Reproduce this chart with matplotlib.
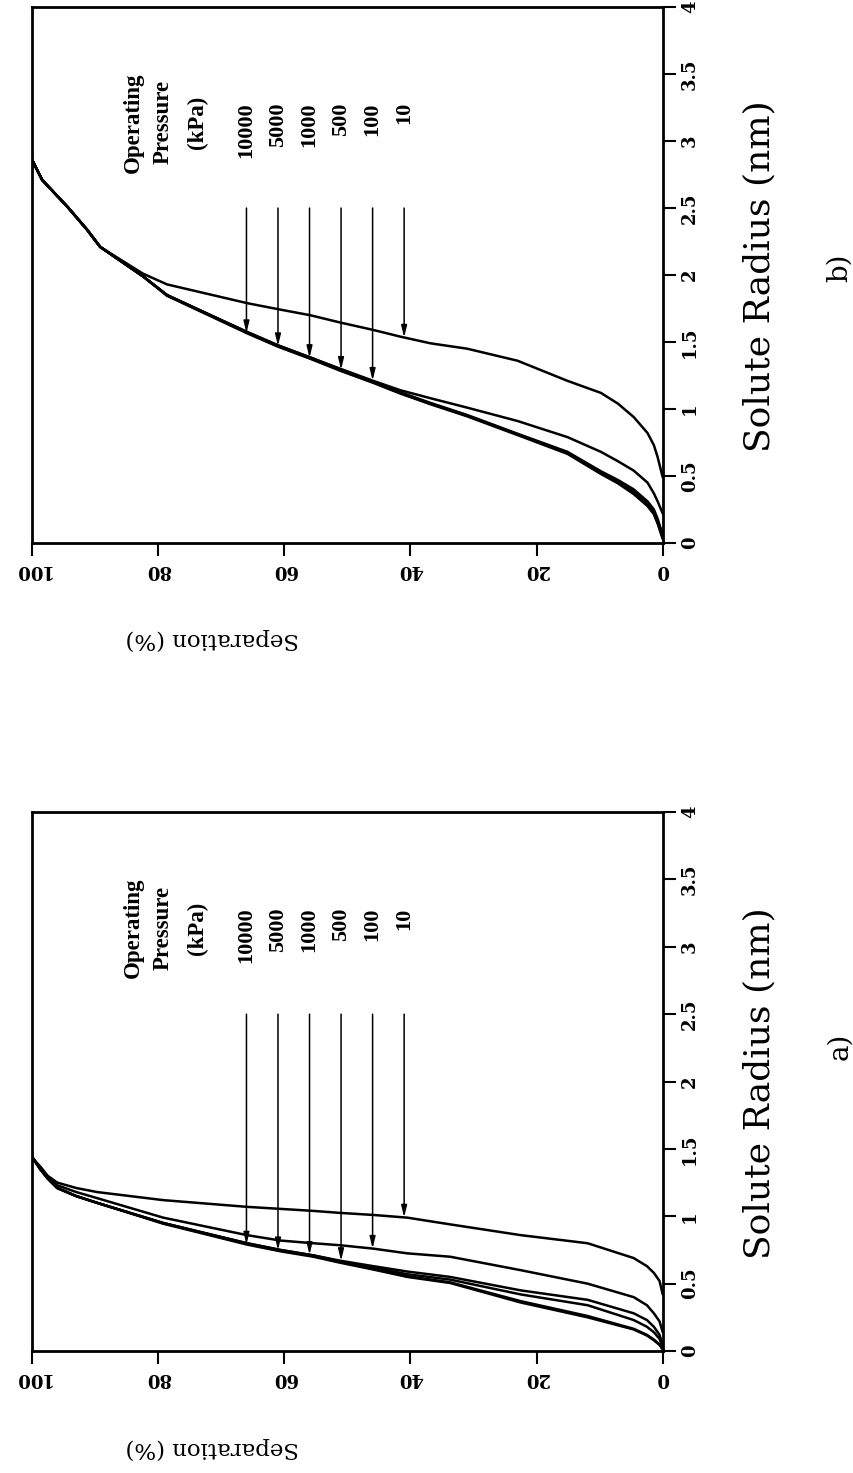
import numpy as np
import matplotlib
matplotlib.use('Agg')
import matplotlib.pyplot as plt

plt.rcParams['font.family'] = ['DejaVu Serif']

# operating pressures (kPa) and where their arrows sit on the separation axis
pressures = ['10000', '5000', '1000', '500', '100', '10']
arrow_sep = [66, 61, 56, 51, 46, 41]
arrow_top = 2.5

sep_ticks = [100, 80, 60, 40, 20, 0]
rad_ticks = [0, 0.5, 1, 1.5, 2, 2.5, 3, 3.5, 4]
rad_labels = ['0', '0.5', '1', '1.5', '2', '2.5', '3', '3.5', '4']

# a) separation grid (%) and solute radius (nm) per pressure
sep_a = [100, 99.4, 98.7, 97.5, 96, 93, 89.7, 79.2, 65.9, 60.6, 55.4, 51.1, 45.9, 40.5, 33.7,
         22.5, 11.9, 4.6, 2.5, 1.4, 0.5, 0]
rad_a_10 = [1.44, 1.405, 1.37, 1.30, 1.25, 1.21, 1.18, 1.12, 1.07, 1.055, 1.04, 1.025, 1.01, 0.99, 0.94,
            0.86, 0.80, 0.69, 0.63, 0.58, 0.52, 0.42]
rad_a_100 = [1.44, 1.40, 1.36, 1.29, 1.23, 1.18, 1.135, 0.99, 0.86, 0.82, 0.80, 0.785, 0.76, 0.725, 0.70,
             0.60, 0.50, 0.40, 0.34, 0.28, 0.22, 0.14]
rad_a_500 = [1.44, 1.40, 1.35, 1.28, 1.21, 1.15, 1.10, 0.95, 0.80, 0.75, 0.71, 0.67, 0.63, 0.59, 0.55,
             0.45, 0.38, 0.28, 0.23, 0.18, 0.12, 0.04]
rad_a_1000 = [1.44, 1.40, 1.35, 1.28, 1.21, 1.15, 1.10, 0.95, 0.80, 0.75, 0.71, 0.665, 0.62, 0.57, 0.53,
              0.42, 0.34, 0.23, 0.18, 0.14, 0.09, 0.03]
rad_a_5000 = [1.44, 1.40, 1.35, 1.28, 1.21, 1.15, 1.10, 0.95, 0.795, 0.745, 0.705, 0.66, 0.61, 0.555, 0.51,
              0.37, 0.26, 0.165, 0.12, 0.085, 0.05, 0.02]
rad_a_10000 = [1.44, 1.40, 1.35, 1.28, 1.21, 1.15, 1.10, 0.945, 0.79, 0.74, 0.70, 0.655, 0.605, 0.55, 0.505,
               0.36, 0.25, 0.16, 0.115, 0.08, 0.045, 0.01]

# b)
sep_b = [100, 98.4, 94.4, 91.3, 89.2, 82.4, 78.6, 65.9, 61.0, 55.9, 51.1, 45.9, 41.6, 36.8, 31.0,
         23.0, 15.1, 9.8, 7.1, 4.6, 2.4, 1.4, 0.8, 0]
rad_b_10 = [2.86, 2.71, 2.51, 2.34, 2.21, 2.01, 1.93, 1.79, 1.745, 1.70, 1.645, 1.59, 1.54, 1.49, 1.45,
            1.36, 1.21, 1.12, 1.04, 0.94, 0.82, 0.73, 0.64, 0.49]
rad_b_100 = [2.86, 2.71, 2.51, 2.34, 2.21, 1.99, 1.85, 1.575, 1.475, 1.385, 1.30, 1.21, 1.14, 1.08, 1.01,
             0.91, 0.79, 0.68, 0.61, 0.54, 0.45, 0.37, 0.31, 0.22]
rad_b_500 = [2.86, 2.71, 2.51, 2.34, 2.21, 1.99, 1.85, 1.575, 1.475, 1.385, 1.295, 1.205, 1.125, 1.045, 0.955,
             0.815, 0.68, 0.535, 0.47, 0.40, 0.31, 0.25, 0.18, 0.06]
rad_b_1000 = [2.86, 2.71, 2.51, 2.34, 2.21, 1.99, 1.85, 1.57, 1.47, 1.38, 1.29, 1.20, 1.12, 1.04, 0.95,
              0.81, 0.675, 0.53, 0.46, 0.385, 0.29, 0.235, 0.165, 0.05]
rad_b_5000 = [2.86, 2.71, 2.51, 2.34, 2.21, 1.99, 1.85, 1.57, 1.47, 1.38, 1.29, 1.20, 1.12, 1.04, 0.95,
              0.81, 0.67, 0.52, 0.45, 0.37, 0.28, 0.22, 0.15, 0.04]
rad_b_10000 = [2.86, 2.71, 2.51, 2.34, 2.21, 1.99, 1.845, 1.565, 1.465, 1.375, 1.285, 1.195, 1.115, 1.035, 0.945,
               0.805, 0.665, 0.515, 0.445, 0.365, 0.275, 0.215, 0.145, 0.03]

curves_a = [rad_a_10000, rad_a_5000, rad_a_1000, rad_a_500, rad_a_100, rad_a_10]
curves_b = [rad_b_10000, rad_b_5000, rad_b_1000, rad_b_500, rad_b_100, rad_b_10]


def panel(ax, sep, curves, tag, tag_y):
    for rad in curves:
        ax.plot(sep, rad, color='k', lw=1.8, solid_capstyle='round', solid_joinstyle='round')

    # arrows drop from r = 2.5 onto each curve
    for p, s, rad in zip(pressures, arrow_sep, curves):
        tip = np.interp(s, sep[::-1], rad[::-1])
        ax.annotate('', xy=(s, tip), xytext=(s, arrow_top),
                    arrowprops=dict(arrowstyle='-|>,head_width=0.17,head_length=0.7',
                                    lw=1.1, color='k', shrinkA=0, shrinkB=0))
        ax.text(s, 3.29, p, rotation=90, ha='center', va='top',
                family='Liberation Serif', weight='bold', fontsize=16)

    for s, txt in zip([84, 79.2, 73.7], ['Operating', 'Pressure', '(kPa)']):
        ax.text(s, 3.14, txt, rotation=90, ha='center', va='center',
                family='Liberation Serif', weight='bold', fontsize=16.5)

    ax.set_xlim(100, 0)
    ax.set_ylim(0, 4)
    ax.set_xticks(sep_ticks)
    ax.set_xticklabels([str(v) for v in sep_ticks], rotation=180,
                       fontsize=13, weight='bold')
    ax.yaxis.tick_right()
    ax.set_yticks(rad_ticks)
    ax.set_yticklabels(rad_labels, rotation=90, va='center',
                       fontsize=13, weight='bold')
    ax.tick_params(direction='out', length=9, width=1.5, pad=4,
                   top=False, left=False)
    for sp in ax.spines.values():
        sp.set_linewidth(2)

    ax.text(0.285, -0.18, 'Separation (%)', transform=ax.transAxes,
            rotation=180, ha='center', va='center', fontsize=16.5)
    ax.text(1.154, 0.497, 'Solute Radius (nm)', transform=ax.transAxes,
            rotation=90, ha='center', va='center', fontsize=26)
    ax.text(1.28, tag_y, tag, transform=ax.transAxes,
            rotation=90, ha='center', va='center', fontsize=20)


fig = plt.figure(figsize=(8.54, 14.73), dpi=100)
ax_b = fig.add_axes([0.0375, 0.6314, 0.7385, 0.3638])
ax_a = fig.add_axes([0.0375, 0.0828, 0.7385, 0.3659])

panel(ax_b, sep_b, curves_b, 'b)', 0.513)
panel(ax_a, sep_a, curves_a, 'a)', 0.565)

fig.savefig('out.png', dpi=100)
